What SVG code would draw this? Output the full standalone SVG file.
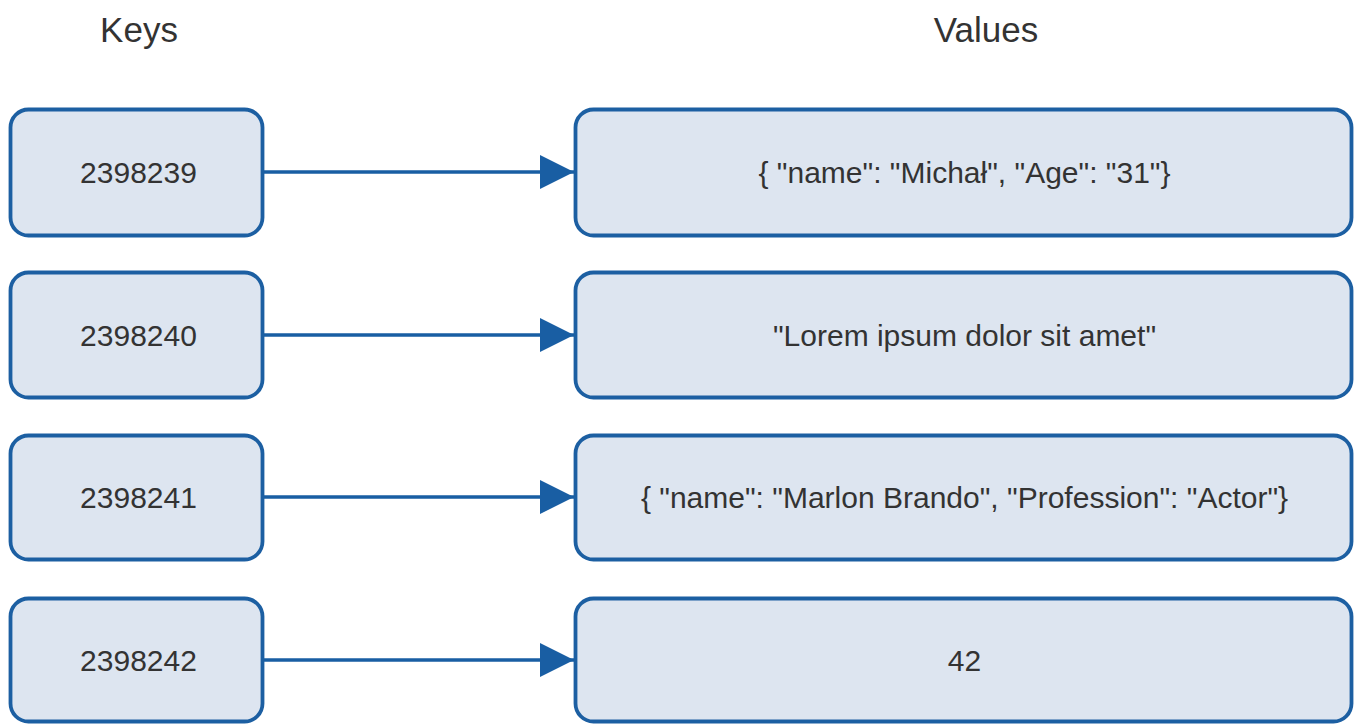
<svg xmlns="http://www.w3.org/2000/svg" width="1358" height="724" viewBox="0 0 1358 724">
<defs>
<marker id="arr" markerUnits="userSpaceOnUse" markerWidth="34" markerHeight="36" refX="34" refY="18" orient="auto">
<path d="M0,1 L34,18 L0,35 Z" fill="#195ea3"/>
</marker>
<style>
.box{fill:#dde5f0;stroke:#1c5fa2;stroke-width:3.8}
.t{font-family:"Liberation Sans",Arial,sans-serif;font-size:30px;fill:#333333;text-anchor:middle;dominant-baseline:central}
.h{font-family:"Liberation Sans",Arial,sans-serif;font-size:35px;fill:#333333;text-anchor:middle}
.c{stroke:#195ea3;stroke-width:3.5;fill:none}
</style>
</defs>
<rect width="1358" height="724" fill="#ffffff"/>
<text class="h" x="139" y="42">Keys</text>
<text class="h" x="986" y="42">Values</text>
<g id="connectors">
<line class="c" x1="263" y1="172" x2="574" y2="172" marker-end="url(#arr)"/>
<line class="c" x1="263" y1="335" x2="574" y2="335" marker-end="url(#arr)"/>
<line class="c" x1="263" y1="497" x2="574" y2="497" marker-end="url(#arr)"/>
<line class="c" x1="263" y1="660" x2="574" y2="660" marker-end="url(#arr)"/>
</g>
<g id="k1"><rect class="box" x="10.5" y="109.5" width="252" height="126" rx="18"/><text class="t" x="138.5" y="172">2398239</text></g>
<g id="k2"><rect class="box" x="10.5" y="272.5" width="252" height="125" rx="18"/><text class="t" x="138.5" y="335">2398240</text></g>
<g id="k3"><rect class="box" x="10.5" y="435.5" width="252" height="124" rx="18"/><text class="t" x="138.5" y="497">2398241</text></g>
<g id="k4"><rect class="box" x="10.5" y="598.5" width="252" height="123" rx="18"/><text class="t" x="138.5" y="660">2398242</text></g>
<g id="v1"><rect class="box" x="575.5" y="109.5" width="776" height="126" rx="18"/><text class="t" x="964.5" y="172">{ "name": "Michał", "Age": "31"}</text></g>
<g id="v2"><rect class="box" x="575.5" y="272.5" width="776" height="125" rx="18"/><text class="t" x="964.5" y="335">"Lorem ipsum dolor sit amet"</text></g>
<g id="v3"><rect class="box" x="575.5" y="435.5" width="776" height="124" rx="18"/><text class="t" x="964.5" y="497">{ "name": "Marlon Brando", "Profession": "Actor"}</text></g>
<g id="v4"><rect class="box" x="575.5" y="598.5" width="776" height="123" rx="18"/><text class="t" x="964.5" y="660">42</text></g>
</svg>
